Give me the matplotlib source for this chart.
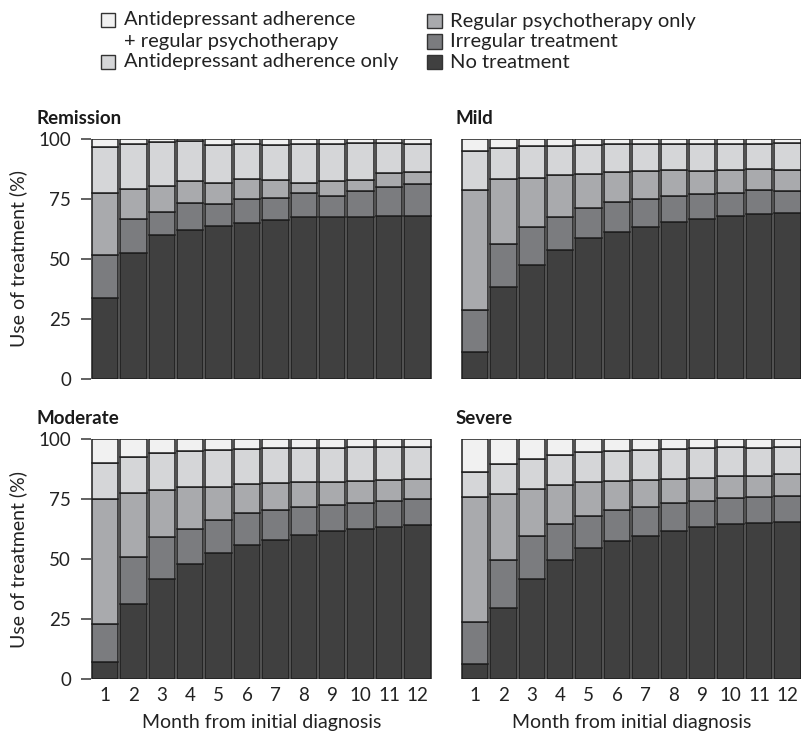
import numpy as np
from matplotlib import pyplot as plt
import matplotlib.patches as patches

plt.rcParams['font.family'] = ['Lato', 'DejaVu Sans']

months = np.arange(1, 13)

# cumulative tops (%) of each stack
# order: no treatment, irregular, regular psychotherapy, antidepressant only
remission_cum = [
	[33.6, 52.5, 60.0, 62.3, 63.9, 64.9, 66.2, 67.7, 67.5, 67.7, 68.1, 67.8],
	[51.7, 66.9, 69.5, 73.4, 73.1, 75.1, 75.6, 77.4, 76.5, 78.3, 80.2, 81.3],
	[77.7, 79.2, 80.6, 82.7, 81.8, 83.3, 82.9, 81.9, 82.6, 83.0, 85.8, 86.2],
	[96.8, 98.0, 98.9, 99.3, 97.6, 98.1, 97.8, 98.1, 98.2, 98.5, 98.5, 98.2],
]
mild_cum = [
	[11.0, 38.3, 47.6, 53.6, 58.6, 61.1, 63.4, 65.3, 66.9, 68.1, 68.9, 69.4],
	[28.8, 56.4, 63.5, 67.7, 71.4, 73.7, 74.9, 76.5, 77.3, 77.7, 78.8, 78.4],
	[78.8, 83.4, 84.0, 85.0, 85.7, 86.5, 86.8, 87.2, 86.9, 87.3, 87.7, 87.3],
	[95.3, 96.4, 97.1, 97.4, 97.6, 97.9, 97.9, 98.1, 98.1, 98.2, 98.2, 98.3],
]
moderate_cum = [
	[7.0, 31.3, 41.6, 47.8, 52.6, 56.0, 57.9, 59.9, 61.7, 62.4, 63.2, 64.2],
	[22.8, 51.0, 59.2, 62.7, 66.2, 69.2, 70.5, 71.7, 72.4, 73.3, 74.2, 75.1],
	[74.9, 77.4, 78.8, 79.9, 80.1, 81.3, 81.6, 82.0, 82.0, 82.7, 82.9, 83.4],
	[90.1, 92.8, 94.2, 95.0, 95.4, 96.1, 96.2, 96.5, 96.5, 96.8, 96.8, 96.8],
]
severe_cum = [
	[6.0, 29.5, 41.6, 49.4, 54.6, 57.4, 59.5, 61.7, 63.5, 64.5, 64.9, 65.6],
	[23.7, 49.4, 59.5, 64.6, 67.8, 70.3, 71.7, 73.4, 74.2, 75.3, 75.8, 76.3],
	[76.0, 77.2, 79.2, 81.1, 82.0, 82.7, 83.0, 83.6, 83.7, 84.5, 84.7, 85.4],
	[86.5, 89.7, 91.9, 93.6, 94.6, 95.3, 95.5, 96.0, 96.4, 96.7, 96.5, 96.9],
]

# bottom-to-top categories
cats = ['No treatment', 'Irregular treatment', 'Regular psychotherapy only',
	'Antidepressant adherence only', 'Antidepressant adherence\n+ regular psychotherapy']
colors = ['#404040', '#7b7c7f', '#a9aaad', '#d5d6d8', '#f1f1f1']

panels = [('Remission', remission_cum), ('Mild', mild_cum),
	('Moderate', moderate_cum), ('Severe', severe_cum)]

W, H = 801, 734
fig = plt.figure(figsize=(W / 100, H / 100), dpi=100)

def fx(px):
	return px / W

def fy(py):
	return 1 - py / H

ax_w = 341 / W
ax_h = 239.4 / H
lefts = [90.7, 460.7]
bottoms = [378.7, 678.7]

def draw_panel(ax, cum):
	tops = [np.array(c) for c in cum] + [np.full(12, 100.0)]
	base = np.zeros(12)
	for top, col in zip(tops, colors):
		ax.bar(months, top - base, bottom=base, width=0.93, color=col,
			edgecolor='#1e1e1e', linewidth=1.1)
		base = top
	ax.set_xlim(0.5, 12.5)
	ax.set_ylim(0, 100)
	for s in ax.spines.values():
		s.set_visible(False)

for i, (name, cum) in enumerate(panels):
	row, col = divmod(i, 2)
	ax = fig.add_axes([fx(lefts[col]), fy(bottoms[row]), ax_w, ax_h])
	draw_panel(ax, cum)
	if col == 0:
		ax.set_yticks([0, 25, 50, 75, 100])
		ax.tick_params(axis='y', length=7, width=1.3, color='#555555', pad=7,
			labelsize=13.5, labelcolor='#222222')
		ax.set_ylabel('Use of treatment (%)', fontsize=14, color='#222222', labelpad=8)
	else:
		ax.set_yticks([])
	if row == 1:
		ax.set_xticks(months)
		ax.tick_params(axis='x', length=0, pad=6, labelsize=13.5, labelcolor='#222222')
		ax.set_xlabel('Month from initial diagnosis', fontsize=14, color='#222222', labelpad=7)
	else:
		ax.set_xticks([])
	tx = 36 if col == 0 else 456
	ty = 118 if row == 0 else 418
	fig.text(fx(tx), fy(ty), name, fontsize=13.5, fontweight='bold', color='#1a1a1a',
		ha='left', va='center')

# legend, drawn by hand to keep the two-line entry aligned on its first line
leg_items = [
	(4, 124, 20, 100.7),
	(3, 124, 62, 100.7),
	(2, 450, 21, 427),
	(1, 450, 41.5, 427),
	(0, 450, 62, 427),
]
for k, tx, ty, sx in leg_items:
	fig.add_artist(patches.Rectangle((fx(sx), fy(ty + 7.3)), 14.5 / W, 14.5 / H,
		transform=fig.transFigure, facecolor=colors[k], edgecolor='#333333', linewidth=1))
	lines = cats[k].split('\n')
	for j, line in enumerate(lines):
		fig.text(fx(tx), fy(ty + 21 * j), line, fontsize=14.5, color='#222222',
			ha='left', va='center')

fig.savefig('out.png', dpi=100)
